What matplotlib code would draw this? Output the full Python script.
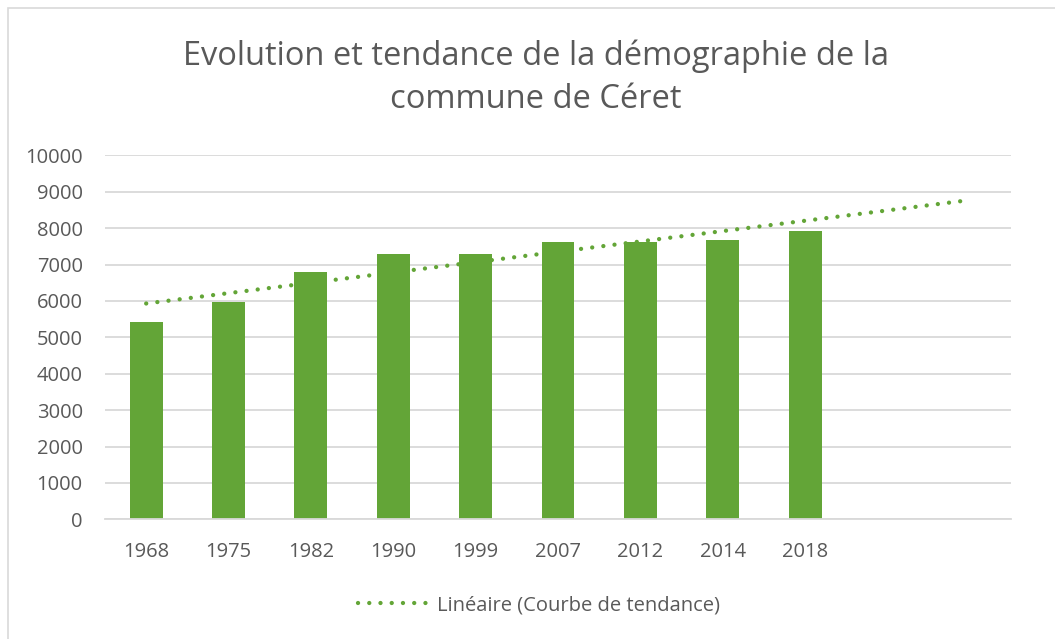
import numpy as np
import matplotlib
matplotlib.use("Agg")
import matplotlib.pyplot as plt
from matplotlib.lines import Line2D
from matplotlib.patches import Rectangle

# Population recensée de Céret
years = ["1968", "1975", "1982", "1990", "1999", "2007", "2012", "2014", "2018"]
population = [5430, 5970, 6790, 7290, 7290, 7610, 7620, 7660, 7930]
forecast_periods = 2
y_ticks = [0, 1000, 2000, 3000, 4000, 5000, 6000, 7000, 8000, 9000, 10000]

GREEN = "#63A537"
GREY_TEXT = "#595959"
GRID = "#D9D9D9"
FONT = "Open Sans"

W, H = 1055, 639
fig = plt.figure(figsize=(W / 100, H / 100), dpi=100)
fig.patch.set_facecolor("white")

# chart area border (left/top edges visible)
fig.patches.append(Rectangle((8 / W, -0.2), 1.2, 1.2 - 8 / H, transform=fig.transFigure,
                             fill=False, edgecolor=GRID, linewidth=1.2))

left, right, top, bottom = 105, 1011, 155.3, 519.3
ax = fig.add_axes([left / W, 1 - bottom / H, (right - left) / W, (bottom - top) / H])

x = np.arange(len(years))
ax.bar(x, population, width=0.4, color=GREEN, zorder=2)

# linear trend, extended two periods forward
slope, intercept = np.polyfit(x, population, 1)
xt = np.array([0, len(years) - 1 + forecast_periods])
dots = (0, (0.01, 2.6))
ax.plot(xt, slope * xt + intercept, color=GREEN, linewidth=3.1,
        linestyle=dots, dash_capstyle="round", zorder=3)

ax.set_xlim(-0.5, len(years) - 1 + forecast_periods + 0.5)
ax.set_ylim(0, 10000)
ax.set_xticks(x)
ax.set_xticklabels(years)
ax.set_yticks(y_ticks)
ax.set_yticklabels([str(v) for v in y_ticks])
ax.tick_params(length=0, labelsize=14.5, labelcolor=GREY_TEXT)
ax.tick_params(axis="x", pad=16)
ax.tick_params(axis="y", pad=16)
for lbl in ax.get_xticklabels() + ax.get_yticklabels():
    lbl.set_fontfamily(FONT)
ax.grid(axis="y", color=GRID, linewidth=1.3, zorder=0)
ax.set_axisbelow(True)
for s in ["top", "right", "left"]:
    ax.spines[s].set_visible(False)
ax.spines["bottom"].set_color(GRID)
ax.spines["bottom"].set_linewidth(1.3)

fig.text(536 / W, 1 - 78 / H, "Evolution et tendance de la démographie de la\ncommune de Céret",
         ha="center", va="center", fontsize=23.5, color=GREY_TEXT, family=FONT,
         linespacing=1.4)

handle = Line2D([], [], color=GREEN, linewidth=3.1, linestyle=dots, dash_capstyle="round")
fig.legend([handle], ["Linéaire (Courbe de tendance)"], loc="center",
           bbox_to_anchor=(539 / W, 1 - 605 / H), frameon=False, handlelength=3.5,
           handletextpad=0.45, prop={"family": FONT, "size": 14.5}, labelcolor=GREY_TEXT)

fig.savefig("out.png", dpi=100)
